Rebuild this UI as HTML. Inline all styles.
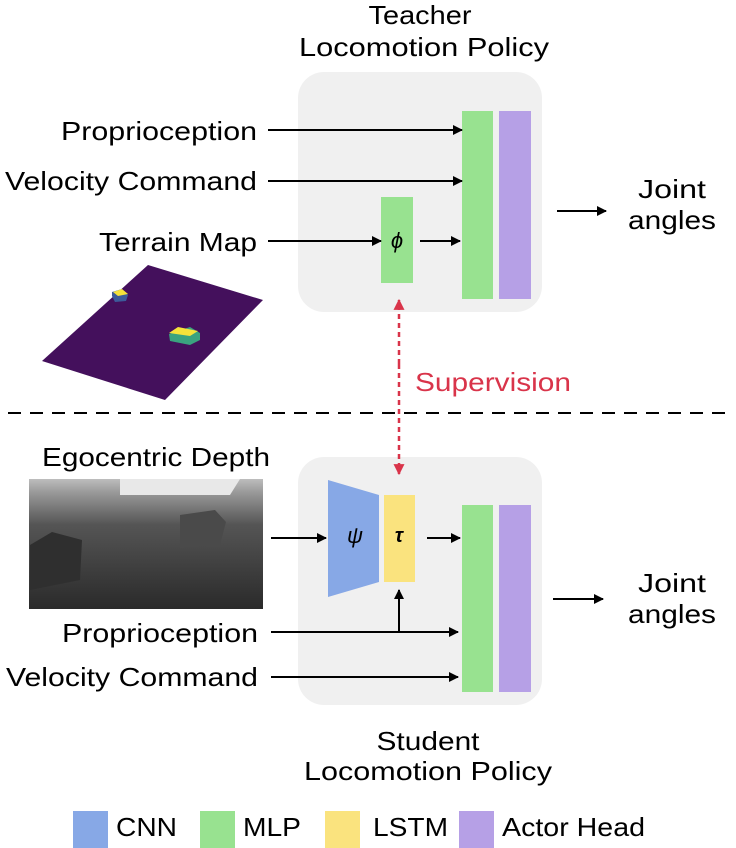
<!DOCTYPE html>
<html><head><meta charset="utf-8"><style>
html,body{margin:0;padding:0;background:#fff}
svg{display:block}
text{font-family:"Liberation Sans",sans-serif;fill:#000}
</style></head><body>
<svg width="736" height="848" viewBox="0 0 736 848" xmlns="http://www.w3.org/2000/svg">
<defs>
<marker id="a" viewBox="0 0 10 10" refX="9" refY="5" markerWidth="10" markerHeight="10" markerUnits="userSpaceOnUse" orient="auto"><path d="M0,0L10,5L0,10z" fill="#000"/></marker>
<marker id="r" viewBox="0 0 10 10" refX="9" refY="5" markerWidth="11" markerHeight="11" markerUnits="userSpaceOnUse" orient="auto"><path d="M0,0L10,5L0,10z" fill="#d9344a"/></marker>
<linearGradient id="d" x1="0" y1="0" x2="0" y2="1">
<stop offset="0" stop-color="#bdbdbd"/><stop offset="0.1" stop-color="#9a9a9a"/><stop offset="0.35" stop-color="#555"/><stop offset="1" stop-color="#2a2a2a"/></linearGradient>
</defs>
<text x="420" y="24" font-size="26" text-anchor="middle" textLength="103" lengthAdjust="spacingAndGlyphs">Teacher</text>
<text x="424" y="56" font-size="26" text-anchor="middle" textLength="250" lengthAdjust="spacingAndGlyphs">Locomotion Policy</text>
<rect x="298" y="72" width="244" height="240" rx="26" fill="#f0f0f0"/>
<rect x="462" y="111" width="31" height="188" fill="#98e290"/>
<rect x="499" y="111" width="32" height="188" fill="#b6a0e6"/>
<rect x="381" y="197" width="32" height="86" fill="#98e290"/>
<text x="397" y="248" font-size="22" font-style="italic" text-anchor="middle" font-family="Liberation Serif">ϕ</text>
<text x="257" y="140" font-size="26" text-anchor="end" textLength="196" lengthAdjust="spacingAndGlyphs">Proprioception</text>
<text x="257" y="190" font-size="26" text-anchor="end" textLength="252" lengthAdjust="spacingAndGlyphs">Velocity Command</text>
<text x="257" y="251" font-size="26" text-anchor="end" textLength="158" lengthAdjust="spacingAndGlyphs">Terrain Map</text>
<text x="672" y="198" font-size="26" text-anchor="middle" textLength="68" lengthAdjust="spacingAndGlyphs">Joint</text>
<text x="672" y="229" font-size="26" text-anchor="middle" textLength="88" lengthAdjust="spacingAndGlyphs">angles</text>
<text x="672" y="592" font-size="26" text-anchor="middle" textLength="68" lengthAdjust="spacingAndGlyphs">Joint</text>
<text x="672" y="623" font-size="26" text-anchor="middle" textLength="88" lengthAdjust="spacingAndGlyphs">angles</text>
<polygon points="148,265 263,300 165,400 42,361" fill="#44105c"/>
<polygon points="112,292 122,289 128,295 126,301 115,302 112,296" fill="#3c5b9a"/>
<polygon points="113,292 122,289 128,294 118,296" fill="#f5e23a"/>
<polygon points="169,334 190,327 200,333 200,340 190,345 170,341" fill="#3aa37f"/>
<polygon points="169,333 178,327 198,331 190,336" fill="#f5e23a"/>
<text x="415" y="391" font-size="26" style="fill:#d9344a" textLength="156" lengthAdjust="spacingAndGlyphs">Supervision</text>
<line x1="8" y1="413" x2="730" y2="413" stroke="#000" stroke-width="2" stroke-dasharray="13,9"/>
<text x="156" y="466" font-size="26" text-anchor="middle" textLength="228" lengthAdjust="spacingAndGlyphs">Egocentric Depth</text>
<rect x="29" y="479" width="234" height="130" fill="url(#d)"/>
<polygon points="120,479 240,479 230,495 120,495" fill="#e8e8e8"/>
<polygon points="30,545 52,532 82,540 80,580 30,590" fill="#2f2f2f"/>
<polygon points="180,515 215,510 226,522 220,545 180,548" fill="#4a4a4a"/>
<rect x="298" y="457" width="244" height="248" rx="26" fill="#f0f0f0"/>
<polygon points="328,480 379,495 379,582 328,597" fill="#87a8e6"/>
<rect x="384" y="495" width="31" height="87" fill="#fae37e"/>
<text x="355" y="543" font-size="22" font-style="italic" text-anchor="middle" font-family="Liberation Serif">ψ</text>
<text x="399" y="542" font-size="20" font-style="italic" text-anchor="middle" font-family="Liberation Serif" font-weight="bold">τ</text>
<rect x="462" y="505" width="31" height="187" fill="#98e290"/>
<rect x="499" y="505" width="32" height="187" fill="#b6a0e6"/>
<text x="258" y="642" font-size="26" text-anchor="end" textLength="196" lengthAdjust="spacingAndGlyphs">Proprioception</text>
<text x="258" y="686" font-size="26" text-anchor="end" textLength="252" lengthAdjust="spacingAndGlyphs">Velocity Command</text>
<g stroke="#000" stroke-width="2" fill="none">
<line x1="268" y1="130" x2="462" y2="130" marker-end="url(#a)"/>
<line x1="268" y1="181" x2="462" y2="181" marker-end="url(#a)"/>
<line x1="268" y1="241" x2="381" y2="241" marker-end="url(#a)"/>
<line x1="420" y1="241" x2="460" y2="241" marker-end="url(#a)"/>
<line x1="557" y1="211" x2="606" y2="211" marker-end="url(#a)"/>
<line x1="271" y1="538" x2="326" y2="538" marker-end="url(#a)"/>
<line x1="427" y1="538" x2="460" y2="538" marker-end="url(#a)"/>
<line x1="271" y1="632" x2="458" y2="632" marker-end="url(#a)"/>
<line x1="399" y1="632" x2="399" y2="590" marker-end="url(#a)"/>
<line x1="271" y1="677" x2="458" y2="677" marker-end="url(#a)"/>
<line x1="553" y1="599" x2="603" y2="599" marker-end="url(#a)"/>
</g>
<line x1="399" y1="364" x2="399" y2="300" stroke="#d9344a" stroke-width="2.5" stroke-dasharray="5,4" marker-end="url(#r)"/>
<line x1="399" y1="364" x2="399" y2="474" stroke="#d9344a" stroke-width="2.5" stroke-dasharray="5,4" marker-end="url(#r)"/>
<text x="428" y="750" font-size="26" text-anchor="middle" textLength="103" lengthAdjust="spacingAndGlyphs">Student</text>
<text x="428" y="780" font-size="26" text-anchor="middle" textLength="248" lengthAdjust="spacingAndGlyphs">Locomotion Policy</text>
<rect x="73" y="811" width="35" height="37" fill="#87a8e6"/>
<text x="116" y="836" font-size="26" textLength="61" lengthAdjust="spacingAndGlyphs">CNN</text>
<rect x="200" y="811" width="35" height="37" fill="#98e290"/>
<text x="243" y="836" font-size="26" textLength="58" lengthAdjust="spacingAndGlyphs">MLP</text>
<rect x="325" y="811" width="35" height="37" fill="#fae37e"/>
<text x="373" y="836" font-size="26" textLength="75" lengthAdjust="spacingAndGlyphs">LSTM</text>
<rect x="459" y="811" width="35" height="37" fill="#b6a0e6"/>
<text x="502" y="836" font-size="26" textLength="143" lengthAdjust="spacingAndGlyphs">Actor Head</text>
</svg>
</body></html>
